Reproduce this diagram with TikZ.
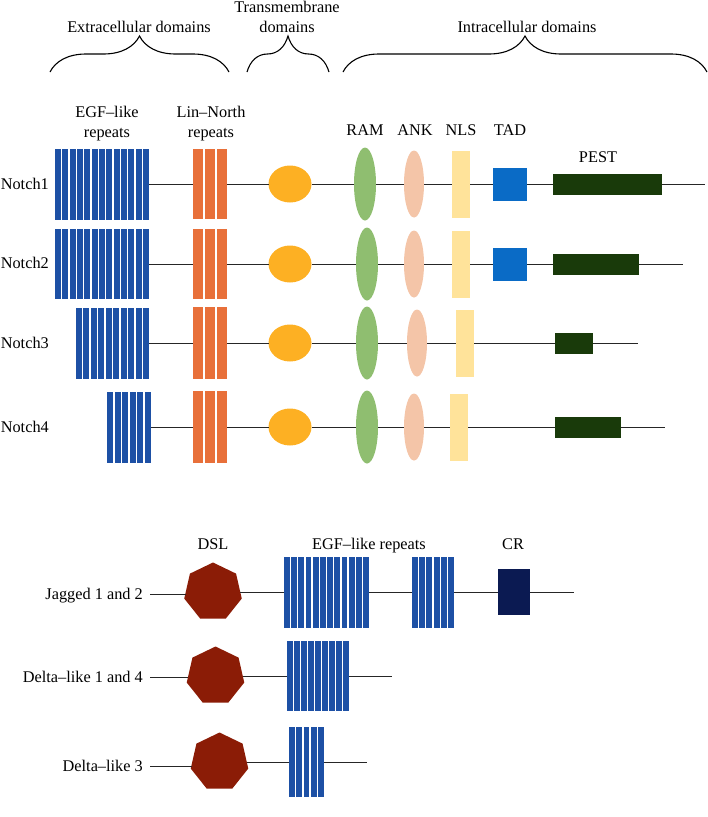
\documentclass[tikz,border=0pt]{standalone}
\usepackage{fontspec}
\setmainfont{Liberation Serif}
\usetikzlibrary{shapes.geometric}
\usetikzlibrary{decorations.pathreplacing}
\usetikzlibrary{positioning}
\definecolor{egfblue}{RGB}{29,80,165}
\definecolor{linorange}{RGB}{232,112,58}
\definecolor{tmyellow}{RGB}{253,176,35}
\definecolor{ramgreen}{RGB}{143,190,112}
\definecolor{ankpeach}{RGB}{244,197,168}
\definecolor{nlsyellow}{RGB}{255,227,154}
\definecolor{tadblue}{RGB}{10,107,198}
\definecolor{pestgreen}{RGB}{25,58,10}
\definecolor{crnavy}{RGB}{11,26,82}
\definecolor{dslred}{RGB}{139,28,6}
\tikzset{
	dombase/.style={inner sep=0pt, outer sep=0pt, draw=none},
	repbox/.style={dombase, rectangle, fill=white},
	tmcircle/.style={dombase, ellipse, fill=tmyellow, minimum width=43pt, minimum height=37pt},
	ramoval/.style={dombase, ellipse, fill=ramgreen, minimum width=22pt, minimum height=73pt},
	ankoval/.style={dombase, ellipse, fill=ankpeach, minimum width=20pt, minimum height=67pt},
	nlsbar/.style={dombase, rectangle, fill=nlsyellow, minimum width=18pt, minimum height=67pt},
	tadbox/.style={dombase, rectangle, fill=tadblue, minimum width=34pt, minimum height=33pt},
	pestbox/.style={dombase, rectangle, fill=pestgreen, minimum height=21pt},
	crbox/.style={dombase, rectangle, fill=crnavy, minimum width=32pt, minimum height=46pt},
	dslhept/.style={dombase, regular polygon, regular polygon sides=7, fill=dslred, minimum size=59pt},
	chain/.style={line width=1pt, black!85},
	bracket/.style={decorate, decoration={brace, amplitude=36pt}, line width=1.1pt},
	lbl/.style={font=\fontsize{16.3}{20}\selectfont, inner sep=0pt},
}
\newcommand{\repeatblock}[7]{%
	\node[repbox, minimum width={(#3-#2)*1pt}, minimum height={#5*1pt}] (#1) at ({(#2+#3)/2},#4) {};
	\foreach \k in {1,...,#6}
		\fill[#7] ({#2+(\k-1)*(#3-#2+1.4)/#6},{#4-#5/2}) rectangle ({#2+\k*(#3-#2+1.4)/#6-1.4},{#4+#5/2});
}

\begin{document}
\begin{tikzpicture}[x=1pt, y=-1pt]
	\useasboundingbox (0,0) rectangle (708,817);

	\node[lbl] (exlab) at (139,27) {Extracellular domains};
	\node[lbl, align=center] (tmlab) at (287,17) {Transmembrane\\domains};
	\node[lbl] (inlab) at (527,27) {Intracellular domains};
	\draw[bracket] (50,72) -- (229,72);
	\draw[bracket] (247,72) -- (329,72);
	\draw[bracket] (343,72) -- (707,72);

	\node[lbl, align=center] (egflab) at (107,124) {EGF--like\\repeats};
	\node[lbl, align=center] (linlab) at (211,124) {Lin--North\\repeats};
	\node[lbl] (ramlab) at (365,130) {RAM};
	\node[lbl] (anklab) at (415,130) {ANK};
	\node[lbl] (nlslab) at (461,130) {NLS};
	\node[lbl] (tadlab) at (510,130) {TAD};
	\node[lbl] (pestlab) at (598,157) {PEST};

	\node[lbl, anchor=base east] (n1lab) at (49,189) {Notch1};
	\repeatblock{n1egf}{55}{149}{184}{71}{13}{egfblue}
	\repeatblock{n1lin}{193}{227}{184}{70}{3}{linorange}
	\node[tmcircle] (n1tm) at (290,184) {};
	\node[ramoval] (n1ram) at (365,184) {};
	\node[ankoval] (n1ank) at (414,184) {};
	\node[nlsbar] (n1nls) at (461,184) {};
	\node[tadbox] (n1tad) at (510,184) {};
	\node[pestbox, minimum width=109pt] (n1pest) at (607.5,184) {};
	\coordinate (n1end) at (705,184);
	\draw[chain] (n1egf) -- (n1lin) -- (n1tm) -- (n1ram) -- (n1ank) -- (n1nls) -- (n1tad) -- (n1pest) -- (n1end);

	\node[lbl, anchor=base east] (n2lab) at (49,268) {Notch2};
	\repeatblock{n2egf}{55}{149}{264}{70}{13}{egfblue}
	\repeatblock{n2lin}{193}{227}{264}{70}{3}{linorange}
	\node[tmcircle] (n2tm) at (290,264) {};
	\node[ramoval] (n2ram) at (367,264) {};
	\node[ankoval] (n2ank) at (414,264) {};
	\node[nlsbar] (n2nls) at (461,264) {};
	\node[tadbox] (n2tad) at (510,264) {};
	\node[pestbox, minimum width=86pt] (n2pest) at (596,264) {};
	\coordinate (n2end) at (683,264);
	\draw[chain] (n2egf) -- (n2lin) -- (n2tm) -- (n2ram) -- (n2ank) -- (n2nls) -- (n2tad) -- (n2pest) -- (n2end);

	\node[lbl, anchor=base east] (n3lab) at (49,348) {Notch3};
	\repeatblock{n3egf}{76}{149}{343}{71}{10}{egfblue}
	\repeatblock{n3lin}{193}{227}{343}{72}{3}{linorange}
	\node[tmcircle] (n3tm) at (290,343) {};
	\node[ramoval] (n3ram) at (367,343) {};
	\node[ankoval] (n3ank) at (417,343) {};
	\node[nlsbar] (n3nls) at (465,343) {};
	\node[pestbox, minimum width=38pt] (n3pest) at (574,343) {};
	\coordinate (n3end) at (638,343);
	\draw[chain] (n3egf) -- (n3lin) -- (n3tm) -- (n3ram) -- (n3ank) -- (n3nls) -- (n3pest) -- (n3end);

	\node[lbl, anchor=base east] (n4lab) at (49,432) {Notch4};
	\repeatblock{n4egf}{107}{151}{427}{71}{6}{egfblue}
	\repeatblock{n4lin}{193}{227}{427}{72}{3}{linorange}
	\node[tmcircle] (n4tm) at (290,427) {};
	\node[ramoval] (n4ram) at (367,427) {};
	\node[ankoval] (n4ank) at (414,427) {};
	\node[nlsbar] (n4nls) at (459,427) {};
	\node[pestbox, minimum width=66pt] (n4pest) at (588,427) {};
	\coordinate (n4end) at (665,427);
	\draw[chain] (n4egf) -- (n4lin) -- (n4tm) -- (n4ram) -- (n4ank) -- (n4nls) -- (n4pest) -- (n4end);

	\node[lbl, anchor=base] (dsllab) at (213,549) {DSL};
	\node[lbl, anchor=base] (ligegflab) at (369,549) {EGF--like repeats};
	\node[lbl, anchor=base] (crlab) at (513,549) {CR};

	\node[lbl, anchor=base east] (j12lab) at (143,599) {Jagged 1 and 2};
	\coordinate (j12start) at (150,594);
	\node[dslhept] (j12dsl) at (213,592) {};
	\repeatblock{j12egfa}{284}{369}{592}{71}{12}{egfblue}
	\repeatblock{j12egfb}{412}{454}{592}{71}{6}{egfblue}
	\node[crbox] (j12cr) at (514,592) {};
	\coordinate (j12end) at (574,592);
	\draw[chain] (j12start) -- (j12dsl.west |- j12start);
	\draw[chain] (j12dsl) -- (j12egfa) -- (j12egfb) -- (j12cr) -- (j12end);

	\node[lbl, anchor=base east] (d14lab) at (143,682) {Delta--like 1 and 4};
	\coordinate (d14start) at (150,677);
	\node[dslhept] (d14dsl) at (215.5,676) {};
	\repeatblock{d14egf}{287}{349}{676}{70}{9}{egfblue}
	\coordinate (d14end) at (392,676);
	\draw[chain] (d14start) -- (d14dsl.west |- d14start);
	\draw[chain] (d14dsl) -- (d14egf) -- (d14end);

	\node[lbl, anchor=base east] (d3lab) at (143,771) {Delta--like 3};
	\coordinate (d3start) at (150,766);
	\node[dslhept] (d3dsl) at (219.5,762) {};
	\repeatblock{d3egf}{289}{324}{762}{70}{5}{egfblue}
	\coordinate (d3end) at (367,762);
	\draw[chain] (d3start) -- (d3dsl.west |- d3start);
	\draw[chain] (d3dsl) -- (d3egf) -- (d3end);
\end{tikzpicture}
\end{document}
